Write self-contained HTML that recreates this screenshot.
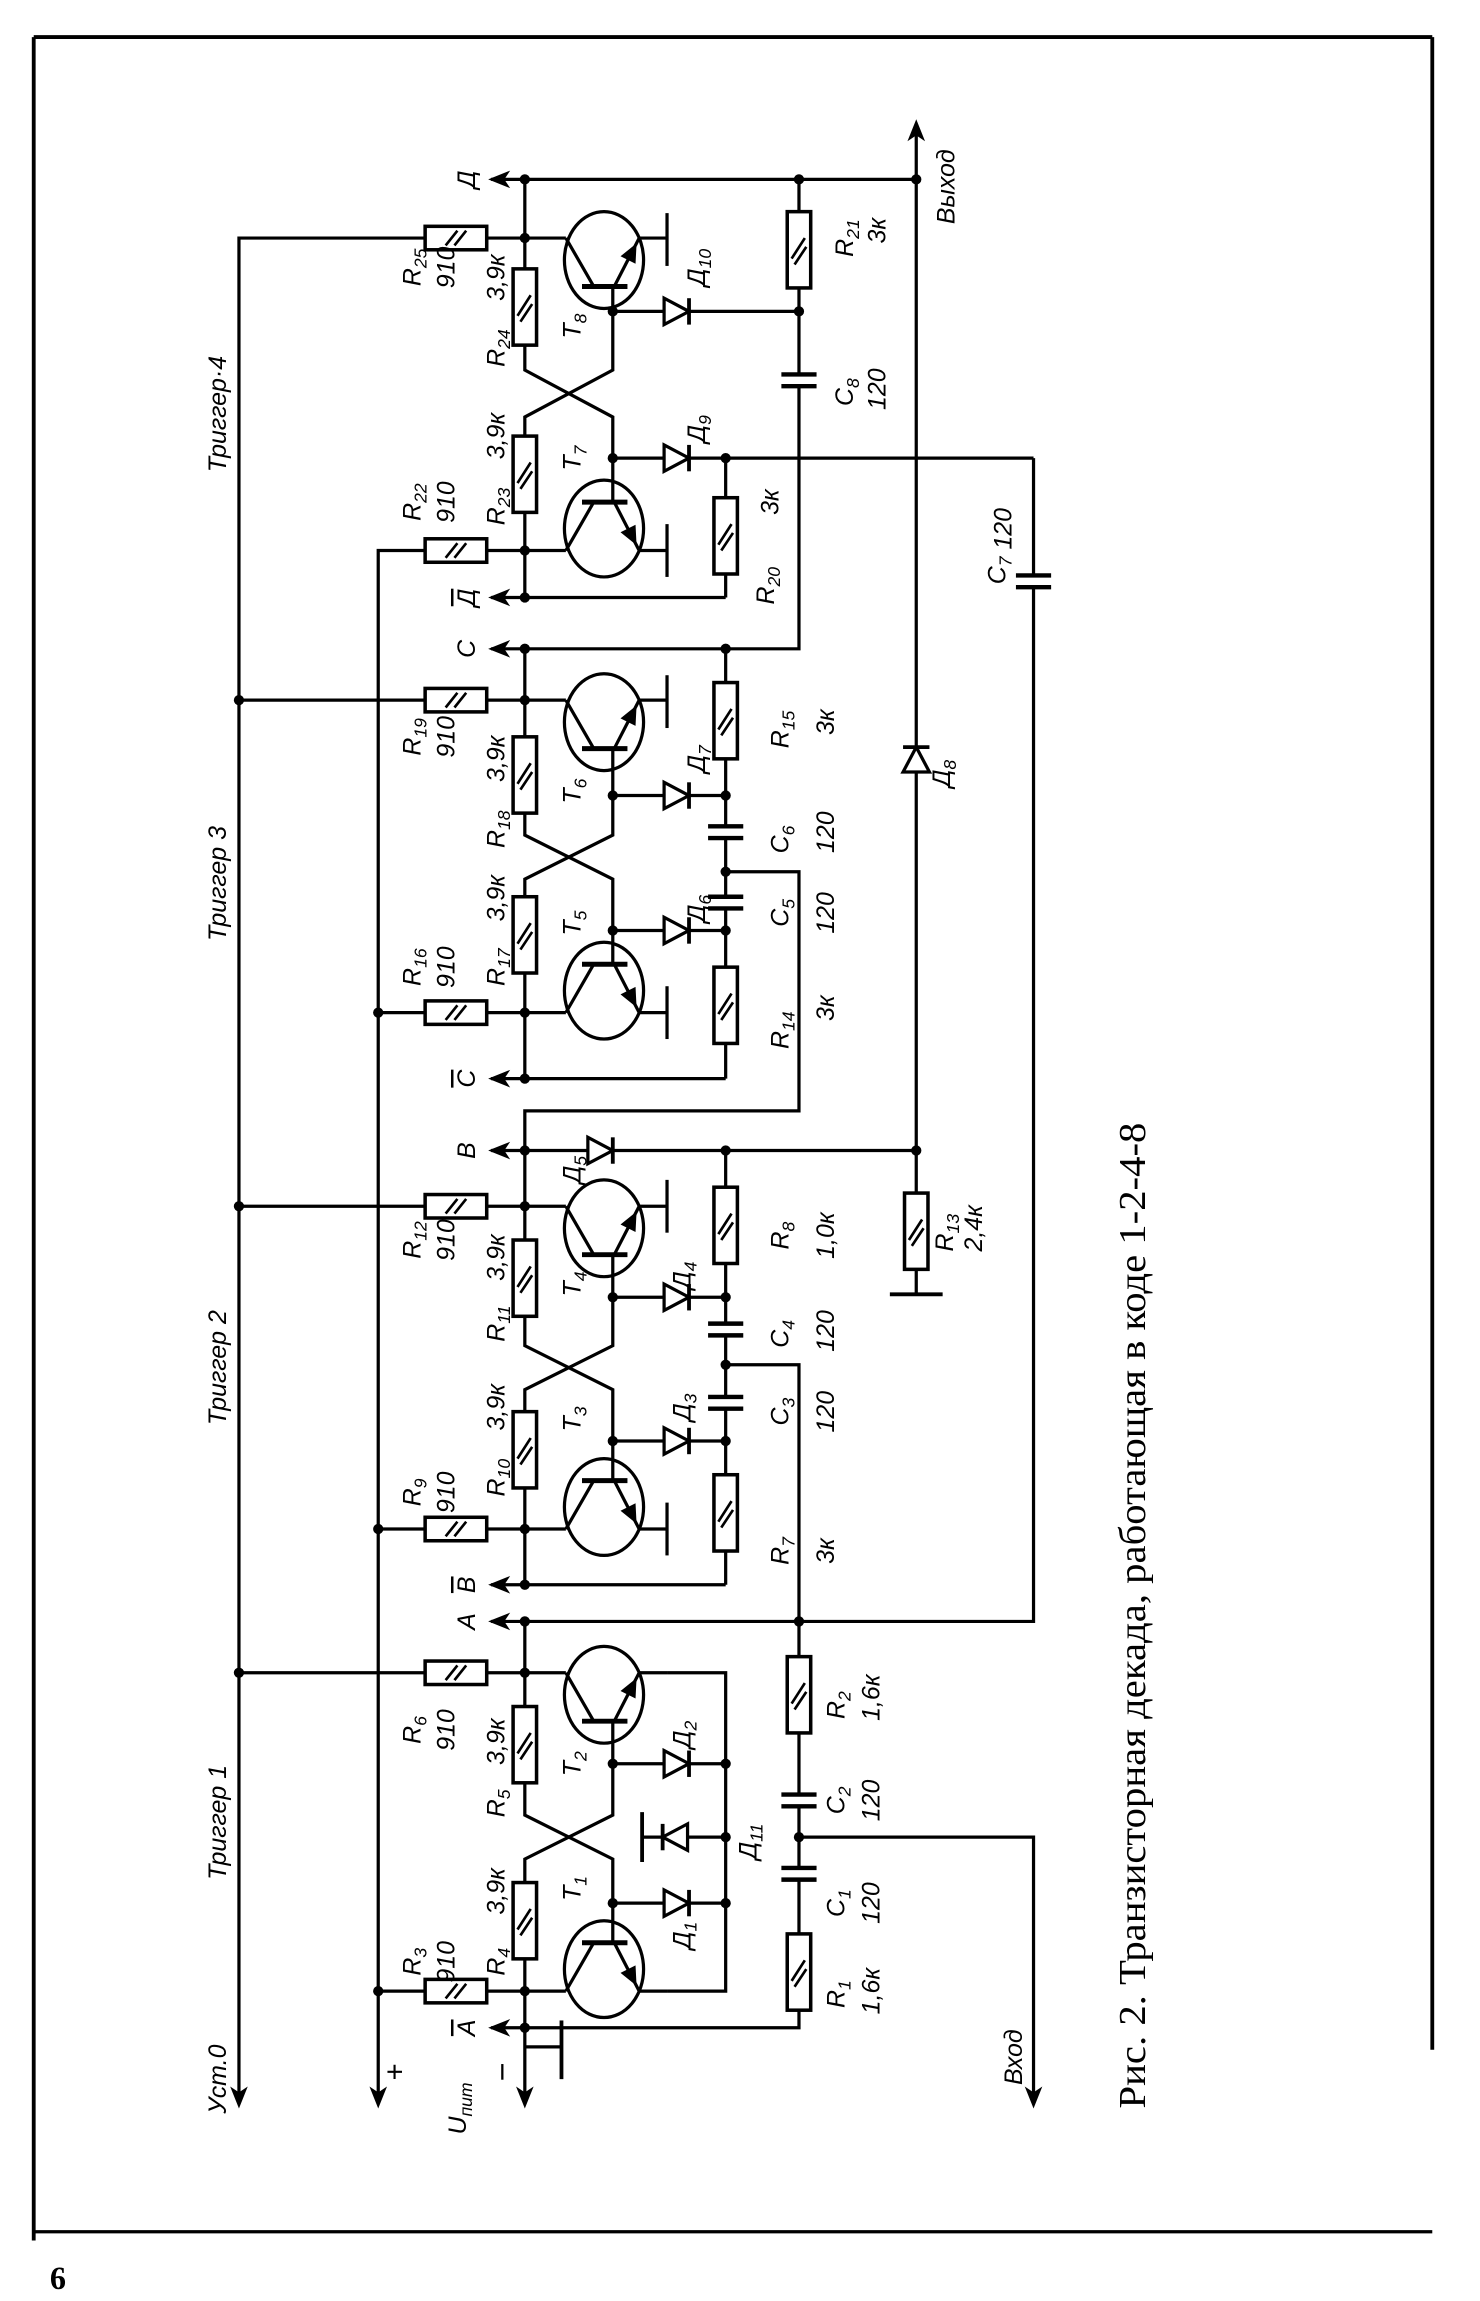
<!DOCTYPE html>
<html><head><meta charset="utf-8"><style>
html,body{margin:0;padding:0;background:#fff}
svg{display:block}
.t{font-family:"Liberation Sans",sans-serif;font-style:italic;font-size:17px;fill:#000;text-anchor:middle}
.cap{font-family:"Liberation Serif",serif;font-size:26px;fill:#000}
</style></head><body>
<svg width="1480" height="2301" viewBox="0 0 1480 2301" xmlns="http://www.w3.org/2000/svg">
<defs>
<g id="rv"><rect x="-8" y="-26" width="16" height="52" fill="#fff" stroke="#000" stroke-width="2.4"/><line x1="-5" y1="6" x2="4" y2="-8" stroke="#000" stroke-width="1.8"/><line x1="-3" y1="10" x2="5" y2="-2" stroke="#000" stroke-width="1.8"/></g>
<g id="rh"><rect x="-21" y="-8" width="42" height="16" fill="#fff" stroke="#000" stroke-width="2.4"/><line x1="-7" y1="5" x2="1" y2="-5" stroke="#000" stroke-width="1.8"/><line x1="-1" y1="5" x2="7" y2="-5" stroke="#000" stroke-width="1.8"/></g>
<g id="cv"><rect x="-3" y="-3" width="6" height="6" fill="#fff"/><line x1="-12" y1="-4" x2="12" y2="-4" stroke="#000" stroke-width="3"/><line x1="-12" y1="4" x2="12" y2="4" stroke="#000" stroke-width="3"/></g>
<g id="dr"><polygon points="-9,-9 -9,9 8,0" fill="#fff" stroke="#000" stroke-width="2.2"/><line x1="8" y1="-9" x2="8" y2="9" stroke="#000" stroke-width="2.6"/></g>
<g id="tt" fill="none" stroke="#000" stroke-width="2.2"><ellipse rx="27" ry="33" fill="none"/><line x1="-15" y1="18" x2="16" y2="18" stroke-width="3.4"/><line x1="-7" y1="18" x2="-26" y2="-15"/><line x1="-26" y1="-15" x2="-54" y2="-15"/><line x1="7" y1="18" x2="24" y2="-15"/><line x1="24" y1="-15" x2="43" y2="-15"/><polygon points="21,-9 20.5,0.8 13.3,-2.8" fill="#000"/></g>
<g id="al"><polygon points="0,0 15,-6 11,0 15,6" fill="#000"/></g>
<g id="ad"><polygon points="0,0 -6,-15 0,-11 6,-15" fill="#000"/></g>
</defs>
<g transform="translate(0,-4) scale(1.466,1.467)">
<g stroke="#000" stroke-width="2.2" fill="none">
<line x1="23" y1="28" x2="23" y2="1530" stroke-width="2.6"/>
<line x1="23" y1="28" x2="977" y2="28" stroke-width="2.6"/>
<line x1="977" y1="28" x2="977" y2="1400" stroke-width="2.6"/>
<line x1="24" y1="1524" x2="977" y2="1524" stroke-width="2.2"/>
<polyline points="358,165 163,165 163,1432"/>
<polyline points="358,378 258,378 258,1432"/>
<line x1="335" y1="125" x2="625" y2="125"/>
<line x1="625" y1="90" x2="625" y2="787"/>
<polyline points="358,125 358,255 418,287 418,345"/>
<polyline points="418,198 418,255 358,287 358,410"/>
<line x1="418" y1="215" x2="545" y2="215"/>
<line x1="418" y1="315" x2="705" y2="315"/>
<line x1="495" y1="315" x2="495" y2="410"/>
<line x1="335" y1="410" x2="495" y2="410"/>
<polyline points="545,125 545,445 335,445"/>
<polyline points="705,315 705,1108 335,1108"/>
<line x1="455" y1="148" x2="455" y2="184"/>
<line x1="455" y1="360" x2="455" y2="396"/>
<line x1="163" y1="480" x2="358" y2="480"/>
<line x1="258" y1="693" x2="358" y2="693"/>
<polyline points="358,445 358,572 418,602 418,660"/>
<polyline points="418,513 418,572 358,602 358,738"/>
<line x1="418" y1="545" x2="495" y2="545"/>
<line x1="418" y1="637" x2="495" y2="637"/>
<line x1="495" y1="445" x2="495" y2="738"/>
<line x1="335" y1="738" x2="495" y2="738"/>
<polyline points="495,597 545,597 545,760 358,760 358,787"/>
<line x1="455" y1="463" x2="455" y2="499"/>
<line x1="455" y1="675" x2="455" y2="711"/>
<line x1="163" y1="825" x2="358" y2="825"/>
<line x1="258" y1="1045" x2="358" y2="1045"/>
<line x1="335" y1="787" x2="625" y2="787"/>
<polyline points="358,787 358,920 418,950 418,1012"/>
<polyline points="418,858 418,920 358,950 358,1083"/>
<line x1="418" y1="887" x2="495" y2="887"/>
<line x1="418" y1="985" x2="495" y2="985"/>
<line x1="495" y1="787" x2="495" y2="1083"/>
<line x1="335" y1="1083" x2="495" y2="1083"/>
<polyline points="495,933 545,933 545,1385 335,1385"/>
<line x1="455" y1="807" x2="455" y2="843"/>
<line x1="455" y1="1027" x2="455" y2="1063"/>
<line x1="625" y1="787" x2="625" y2="885"/>
<line x1="607" y1="885" x2="643" y2="885" stroke-width="2.6"/>
<line x1="163" y1="1143" x2="358" y2="1143"/>
<line x1="258" y1="1360" x2="358" y2="1360"/>
<polyline points="358,1108 358,1240 418,1270 418,1327"/>
<polyline points="418,1176 418,1240 358,1270 358,1432"/>
<line x1="418" y1="1205" x2="495" y2="1205"/>
<line x1="418" y1="1300" x2="495" y2="1300"/>
<polyline points="455,1143 495,1143 495,1360 455,1360"/>
<line x1="438" y1="1255" x2="495" y2="1255"/>
<line x1="438" y1="1238" x2="438" y2="1272" stroke-width="2.6"/>
<polyline points="545,1255 705,1255 705,1432"/>
<polyline points="358,1398 383,1398"/>
<line x1="383" y1="1380" x2="383" y2="1420" stroke-width="2.6"/>
</g>
<use href="#tt" transform="translate(412,180)"/>
<use href="#tt" transform="translate(412,363) scale(1,-1)"/>
<use href="#tt" transform="translate(412,495)"/>
<use href="#tt" transform="translate(412,678) scale(1,-1)"/>
<use href="#tt" transform="translate(412,840)"/>
<use href="#tt" transform="translate(412,1030) scale(1,-1)"/>
<use href="#tt" transform="translate(412,1158)"/>
<use href="#tt" transform="translate(412,1345) scale(1,-1)"/>
<use href="#rh" x="311" y="165"/><use href="#rh" x="311" y="378"/>
<use href="#rh" x="311" y="480"/><use href="#rh" x="311" y="693"/>
<use href="#rh" x="311" y="825"/><use href="#rh" x="311" y="1045"/>
<use href="#rh" x="311" y="1143"/><use href="#rh" x="311" y="1360"/>
<use href="#rv" x="358" y="212"/><use href="#rv" x="358" y="326"/>
<use href="#rv" x="495" y="368"/><use href="#rv" x="545" y="173"/>
<use href="#rv" x="358" y="531"/><use href="#rv" x="358" y="640"/>
<use href="#rv" x="495" y="494"/><use href="#rv" x="495" y="688"/>
<use href="#rv" x="358" y="874"/><use href="#rv" x="358" y="991"/>
<use href="#rv" x="495" y="838"/><use href="#rv" x="495" y="1034"/>
<use href="#rv" x="625" y="842"/>
<use href="#rv" x="358" y="1192"/><use href="#rv" x="358" y="1312"/>
<use href="#rv" x="545" y="1158"/><use href="#rv" x="545" y="1347"/>
<use href="#cv" x="545" y="262"/><use href="#cv" x="705" y="399"/>
<use href="#cv" x="495" y="570"/><use href="#cv" x="495" y="618"/>
<use href="#cv" x="495" y="909"/><use href="#cv" x="495" y="959"/>
<use href="#cv" x="545" y="1230"/><use href="#cv" x="545" y="1280"/>
<use href="#dr" x="462" y="215"/><use href="#dr" x="462" y="315"/>
<use href="#dr" x="462" y="545"/><use href="#dr" x="462" y="637"/>
<use href="#dr" x="462" y="887"/><use href="#dr" x="462" y="985"/>
<use href="#dr" x="410" y="787"/>
<use href="#dr" x="462" y="1205"/><use href="#dr" x="462" y="1300"/>
<use href="#dr" transform="translate(460,1255) rotate(180)"/>
<use href="#dr" transform="translate(625,520) rotate(-90)"/>
<use href="#al" x="333" y="125"/><use href="#al" x="333" y="410"/>
<use href="#al" x="333" y="445"/><use href="#al" x="333" y="738"/>
<use href="#al" x="333" y="787"/><use href="#al" x="333" y="1083"/>
<use href="#al" x="333" y="1108"/><use href="#al" x="333" y="1385"/>
<use href="#ad" x="163" y="1440"/><use href="#ad" x="258" y="1440"/>
<use href="#ad" x="358" y="1440"/><use href="#ad" x="705" y="1440"/>
<use href="#ad" transform="translate(625,84) scale(1,-1)"/>
<g fill="#000">
<circle cx="358" cy="125" r="3.5"/><circle cx="545" cy="125" r="3.5"/><circle cx="625" cy="125" r="3.5"/>
<circle cx="358" cy="165" r="3.5"/><circle cx="418" cy="215" r="3.5"/><circle cx="545" cy="215" r="3.5"/>
<circle cx="418" cy="315" r="3.5"/><circle cx="495" cy="315" r="3.5"/><circle cx="358" cy="378" r="3.5"/>
<circle cx="358" cy="410" r="3.5"/><circle cx="358" cy="445" r="3.5"/><circle cx="495" cy="445" r="3.5"/>
<circle cx="163" cy="480" r="3.5"/><circle cx="358" cy="480" r="3.5"/><circle cx="418" cy="545" r="3.5"/><circle cx="495" cy="545" r="3.5"/>
<circle cx="495" cy="597" r="3.5"/><circle cx="418" cy="637" r="3.5"/><circle cx="495" cy="637" r="3.5"/>
<circle cx="258" cy="693" r="3.5"/><circle cx="358" cy="693" r="3.5"/><circle cx="358" cy="738" r="3.5"/>
<circle cx="358" cy="787" r="3.5"/><circle cx="495" cy="787" r="3.5"/><circle cx="625" cy="787" r="3.5"/>
<circle cx="163" cy="825" r="3.5"/><circle cx="358" cy="825" r="3.5"/><circle cx="418" cy="887" r="3.5"/><circle cx="495" cy="887" r="3.5"/>
<circle cx="495" cy="933" r="3.5"/><circle cx="418" cy="985" r="3.5"/><circle cx="495" cy="985" r="3.5"/>
<circle cx="258" cy="1045" r="3.5"/><circle cx="358" cy="1045" r="3.5"/><circle cx="358" cy="1083" r="3.5"/>
<circle cx="358" cy="1108" r="3.5"/><circle cx="545" cy="1108" r="3.5"/>
<circle cx="163" cy="1143" r="3.5"/><circle cx="358" cy="1143" r="3.5"/>
<circle cx="418" cy="1205" r="3.5"/><circle cx="495" cy="1205" r="3.5"/><circle cx="495" cy="1255" r="3.5"/><circle cx="545" cy="1255" r="3.5"/>
<circle cx="418" cy="1300" r="3.5"/><circle cx="495" cy="1300" r="3.5"/>
<circle cx="258" cy="1360" r="3.5"/><circle cx="358" cy="1360" r="3.5"/><circle cx="358" cy="1385" r="3.5"/>
</g>
<g class="t">
<text transform="translate(154,1420) rotate(-90)">Уст.0</text>
<text transform="translate(154,1245) rotate(-90)">Триггер 1</text>
<text transform="translate(154,935) rotate(-90)">Триггер 2</text>
<text transform="translate(154,605) rotate(-90)">Триггер 3</text>
<text transform="translate(154,285) rotate(-90)">Триггер·4</text>
<text transform="translate(276,1415) rotate(-90)" font-style="normal" font-size="20">+</text>
<text transform="translate(318,1440) rotate(-90)">U<tspan font-size="12" dy="4">пит</tspan></text>
<text transform="translate(350,1415) rotate(-90)" font-style="normal" font-size="22">−</text>
<text transform="translate(697,1405) rotate(-90)">Вход</text>
<text transform="translate(651,130) rotate(-90)">Выход</text>
<text transform="translate(324,125) rotate(-90)">Д</text>
<text transform="translate(324,410) rotate(-90)"><tspan text-decoration="overline">Д</tspan></text>
<text transform="translate(324,445) rotate(-90)">C</text>
<text transform="translate(324,738) rotate(-90)"><tspan text-decoration="overline">C</tspan></text>
<text transform="translate(324,787) rotate(-90)">B</text>
<text transform="translate(324,1083) rotate(-90)"><tspan text-decoration="overline">B</tspan></text>
<text transform="translate(324,1108) rotate(-90)">A</text>
<text transform="translate(324,1385) rotate(-90)"><tspan text-decoration="overline">A</tspan></text>
<text transform="translate(287,185) rotate(-90)">R<tspan font-size="12" dy="4">25</tspan></text>
<text transform="translate(310,185) rotate(-90)">910</text>
<text transform="translate(344,192) rotate(-90)">3,9к</text>
<text transform="translate(344,240) rotate(-90)">R<tspan font-size="12" dy="4">24</tspan></text>
<text transform="translate(344,300) rotate(-90)">3,9к</text>
<text transform="translate(344,348) rotate(-90)">R<tspan font-size="12" dy="4">23</tspan></text>
<text transform="translate(287,345) rotate(-90)">R<tspan font-size="12" dy="4">22</tspan></text>
<text transform="translate(310,345) rotate(-90)">910</text>
<text transform="translate(396,225) rotate(-90)">T<tspan font-size="12" dy="4">8</tspan></text>
<text transform="translate(396,315) rotate(-90)">T<tspan font-size="12" dy="4">7</tspan></text>
<text transform="translate(481,185) rotate(-90)">Д<tspan font-size="12" dy="4">10</tspan></text>
<text transform="translate(481,295) rotate(-90)">Д<tspan font-size="12" dy="4">9</tspan></text>
<text transform="translate(582,165) rotate(-90)">R<tspan font-size="12" dy="4">21</tspan></text>
<text transform="translate(604,160) rotate(-90)">3к</text>
<text transform="translate(582,270) rotate(-90)">C<tspan font-size="12" dy="4">8</tspan></text>
<text transform="translate(604,268) rotate(-90)">120</text>
<text transform="translate(528,402) rotate(-90)">R<tspan font-size="12" dy="4">20</tspan></text>
<text transform="translate(531,345) rotate(-90)">3к</text>
<text transform="translate(686,375) rotate(-90)">C<tspan font-size="12" dy="4">7</tspan> 120</text>
<text transform="translate(287,505) rotate(-90)">R<tspan font-size="12" dy="4">19</tspan></text>
<text transform="translate(310,505) rotate(-90)">910</text>
<text transform="translate(344,520) rotate(-90)">3,9к</text>
<text transform="translate(344,568) rotate(-90)">R<tspan font-size="12" dy="4">18</tspan></text>
<text transform="translate(344,615) rotate(-90)">3,9к</text>
<text transform="translate(344,662) rotate(-90)">R<tspan font-size="12" dy="4">17</tspan></text>
<text transform="translate(287,662) rotate(-90)">R<tspan font-size="12" dy="4">16</tspan></text>
<text transform="translate(310,662) rotate(-90)">910</text>
<text transform="translate(396,542) rotate(-90)">T<tspan font-size="12" dy="4">6</tspan></text>
<text transform="translate(396,632) rotate(-90)">T<tspan font-size="12" dy="4">5</tspan></text>
<text transform="translate(481,520) rotate(-90)">Д<tspan font-size="12" dy="4">7</tspan></text>
<text transform="translate(481,622) rotate(-90)">Д<tspan font-size="12" dy="4">6</tspan></text>
<text transform="translate(538,500) rotate(-90)">R<tspan font-size="12" dy="4">15</tspan></text>
<text transform="translate(569,495) rotate(-90)">3к</text>
<text transform="translate(538,575) rotate(-90)">C<tspan font-size="12" dy="4">6</tspan></text>
<text transform="translate(569,570) rotate(-90)">120</text>
<text transform="translate(538,625) rotate(-90)">C<tspan font-size="12" dy="4">5</tspan></text>
<text transform="translate(569,625) rotate(-90)">120</text>
<text transform="translate(538,705) rotate(-90)">R<tspan font-size="12" dy="4">14</tspan></text>
<text transform="translate(569,690) rotate(-90)">3к</text>
<text transform="translate(287,848) rotate(-90)">R<tspan font-size="12" dy="4">12</tspan></text>
<text transform="translate(310,848) rotate(-90)">910</text>
<text transform="translate(344,860) rotate(-90)">3,9к</text>
<text transform="translate(344,905) rotate(-90)">R<tspan font-size="12" dy="4">11</tspan></text>
<text transform="translate(344,962) rotate(-90)">3,9к</text>
<text transform="translate(344,1010) rotate(-90)">R<tspan font-size="12" dy="4">10</tspan></text>
<text transform="translate(287,1020) rotate(-90)">R<tspan font-size="12" dy="4">9</tspan></text>
<text transform="translate(310,1020) rotate(-90)">910</text>
<text transform="translate(396,878) rotate(-90)">T<tspan font-size="12" dy="4">4</tspan></text>
<text transform="translate(396,970) rotate(-90)">T<tspan font-size="12" dy="4">3</tspan></text>
<text transform="translate(396,800) rotate(-90)">Д<tspan font-size="12" dy="4">5</tspan></text>
<text transform="translate(471,872) rotate(-90)">Д<tspan font-size="12" dy="4">4</tspan></text>
<text transform="translate(471,962) rotate(-90)">Д<tspan font-size="12" dy="4">3</tspan></text>
<text transform="translate(538,845) rotate(-90)">R<tspan font-size="12" dy="4">8</tspan></text>
<text transform="translate(569,845) rotate(-90)">1,0к</text>
<text transform="translate(538,912) rotate(-90)">C<tspan font-size="12" dy="4">4</tspan></text>
<text transform="translate(569,910) rotate(-90)">120</text>
<text transform="translate(538,965) rotate(-90)">C<tspan font-size="12" dy="4">3</tspan></text>
<text transform="translate(569,965) rotate(-90)">120</text>
<text transform="translate(538,1060) rotate(-90)">R<tspan font-size="12" dy="4">7</tspan></text>
<text transform="translate(569,1060) rotate(-90)">3к</text>
<text transform="translate(650,843) rotate(-90)">R<tspan font-size="12" dy="4">13</tspan></text>
<text transform="translate(670,840) rotate(-90)">2,4к</text>
<text transform="translate(648,530) rotate(-90)">Д<tspan font-size="12" dy="4">8</tspan></text>
<text transform="translate(287,1182) rotate(-90)">R<tspan font-size="12" dy="4">6</tspan></text>
<text transform="translate(310,1182) rotate(-90)">910</text>
<text transform="translate(344,1190) rotate(-90)">3,9к</text>
<text transform="translate(344,1232) rotate(-90)">R<tspan font-size="12" dy="4">5</tspan></text>
<text transform="translate(344,1292) rotate(-90)">3,9к</text>
<text transform="translate(344,1340) rotate(-90)">R<tspan font-size="12" dy="4">4</tspan></text>
<text transform="translate(287,1340) rotate(-90)">R<tspan font-size="12" dy="4">3</tspan></text>
<text transform="translate(310,1340) rotate(-90)">910</text>
<text transform="translate(396,1205) rotate(-90)">T<tspan font-size="12" dy="4">2</tspan></text>
<text transform="translate(396,1290) rotate(-90)">T<tspan font-size="12" dy="4">1</tspan></text>
<text transform="translate(471,1185) rotate(-90)">Д<tspan font-size="12" dy="4">2</tspan></text>
<text transform="translate(471,1322) rotate(-90)">Д<tspan font-size="12" dy="4">1</tspan></text>
<text transform="translate(516,1258) rotate(-90)">Д<tspan font-size="12" dy="4">11</tspan></text>
<text transform="translate(576,1165) rotate(-90)">R<tspan font-size="12" dy="4">2</tspan></text>
<text transform="translate(600,1160) rotate(-90)">1,6к</text>
<text transform="translate(576,1230) rotate(-90)">C<tspan font-size="12" dy="4">2</tspan></text>
<text transform="translate(600,1230) rotate(-90)">120</text>
<text transform="translate(576,1300) rotate(-90)">C<tspan font-size="12" dy="4">1</tspan></text>
<text transform="translate(600,1300) rotate(-90)">120</text>
<text transform="translate(576,1362) rotate(-90)">R<tspan font-size="12" dy="4">1</tspan></text>
<text transform="translate(600,1360) rotate(-90)">1,6к</text>
</g>
<text class="cap" transform="translate(781,1440) rotate(-90)" textLength="672" lengthAdjust="spacingAndGlyphs">Рис. 2. Транзисторная декада, работающая в коде 1-2-4-8</text>
<text x="34" y="1563" font-family="Liberation Serif,serif" font-weight="bold" font-size="22">6</text>
</g>
</svg>
</body></html>
